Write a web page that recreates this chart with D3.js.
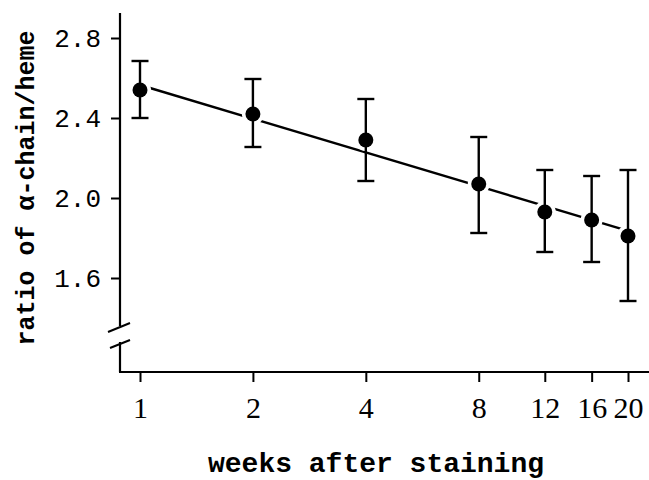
<!DOCTYPE html>
<html>
<head>
<meta charset="utf-8">
<script src="https://cdn.jsdelivr.net/npm/d3@7"></script>
<style>
  body { margin: 0; background: #fff; }
  svg { display: block; }
</style>
</head>
<body>
<svg id="chart"></svg>
<script>
let width = 649;
let height = 480;

// data
const weeks = [1, 2, 4, 8, 12, 16, 20];
const ratio = [2.54, 2.42, 2.29, 2.07, 1.93, 1.89, 1.81];
const errHigh = [2.685, 2.595, 2.495, 2.305, 2.14, 2.11, 2.14];
const errLow = [2.40, 2.255, 2.085, 1.825, 1.73, 1.68, 1.485];
const fitWeeks = [1, 20];
const fitRatio = [2.565, 1.836];
const yTicks = [1.6, 2.0, 2.4, 2.8];

let svg = d3.select('#chart')
  .attr('width', width)
  .attr('height', height);

let x = d3.scaleLog()
  .domain([1, 20])
  .range([140, 628]);

let y = d3.scaleLinear()
  .domain([1.13, 2.925])
  .range([372, 13]);

const axisLeft = 120;
const axisBottom = 372;

// axes
let xAxis = svg.append('g')
  .attr('transform', `translate(0,${axisBottom})`)
  .call(d3.axisBottom(x).tickValues(weeks).tickFormat(d3.format('d'))
    .tickSize(10).tickPadding(15).tickSizeOuter(0));
xAxis.select('.domain').remove();
xAxis.selectAll('line').attr('stroke-width', 2);
xAxis.selectAll('text')
  .attr('font-family', '"Liberation Serif", serif')
  .attr('font-size', 30)
  .attr('fill', '#000');

svg.append('line')
  .attr('x1', axisLeft - 1).attr('x2', width)
  .attr('y1', axisBottom).attr('y2', axisBottom)
  .attr('stroke', '#000').attr('stroke-width', 2.2);

let yAxis = svg.append('g')
  .attr('transform', `translate(${axisLeft},0)`)
  .call(d3.axisLeft(y).tickValues(yTicks).tickFormat(d3.format('.1f'))
    .tickSize(9).tickPadding(10));
yAxis.select('.domain').remove();
yAxis.selectAll('line').attr('stroke-width', 2);
yAxis.selectAll('text')
  .attr('font-family', '"Liberation Mono", monospace')
  .attr('font-size', 26)
  .attr('fill', '#000');

// y axis line with a break
svg.append('line')
  .attr('x1', axisLeft).attr('x2', axisLeft)
  .attr('y1', 13).attr('y2', 326)
  .attr('stroke', '#000').attr('stroke-width', 2.2);
svg.append('line')
  .attr('x1', axisLeft).attr('x2', axisLeft)
  .attr('y1', 342).attr('y2', axisBottom)
  .attr('stroke', '#000').attr('stroke-width', 2.2);
svg.append('line')
  .attr('x1', 108).attr('y1', 332).attr('x2', 130).attr('y2', 323)
  .attr('stroke', '#000').attr('stroke-width', 2);
svg.append('line')
  .attr('x1', 110).attr('y1', 348).attr('x2', 130).attr('y2', 340)
  .attr('stroke', '#000').attr('stroke-width', 2);

// fitted line
svg.append('path')
  .datum(fitWeeks.map((w, i) => [w, fitRatio[i]]))
  .attr('fill', 'none')
  .attr('stroke', '#000')
  .attr('stroke-width', 2.4)
  .attr('d', d3.line().x(d => x(d[0])).y(d => y(d[1])));

// white gaps round the points
svg.append('g')
  .selectAll('circle')
  .data(weeks)
  .join('circle')
    .attr('cx', d => x(d))
    .attr('cy', (d, i) => y(ratio[i]))
    .attr('r', 11)
    .attr('fill', '#fff');

// error bars
let bars = svg.append('g')
  .attr('stroke', '#000')
  .attr('stroke-width', 2.4);

bars.selectAll('.v')
  .data(weeks)
  .join('line')
    .attr('x1', d => x(d)).attr('x2', d => x(d))
    .attr('y1', (d, i) => y(errHigh[i]))
    .attr('y2', (d, i) => y(errLow[i]));

bars.selectAll('.hi')
  .data(weeks)
  .join('line')
    .attr('x1', d => x(d) - 8.5).attr('x2', d => x(d) + 8.5)
    .attr('y1', (d, i) => y(errHigh[i]))
    .attr('y2', (d, i) => y(errHigh[i]));

bars.selectAll('.lo')
  .data(weeks)
  .join('line')
    .attr('x1', d => x(d) - 8.5).attr('x2', d => x(d) + 8.5)
    .attr('y1', (d, i) => y(errLow[i]))
    .attr('y2', (d, i) => y(errLow[i]));

// points
svg.append('g')
  .selectAll('circle')
  .data(weeks)
  .join('circle')
    .attr('cx', d => x(d))
    .attr('cy', (d, i) => y(ratio[i]))
    .attr('r', 7.5)
    .attr('fill', '#000');

// labels
svg.append('text')
  .attr('x', 376)
  .attr('y', 472)
  .attr('text-anchor', 'middle')
  .attr('font-family', '"Liberation Mono", monospace')
  .attr('font-weight', 'bold')
  .attr('font-size', 28)
  .text('weeks after staining');

svg.append('text')
  .attr('transform', 'translate(34,188) rotate(-90)')
  .attr('text-anchor', 'middle')
  .attr('font-family', '"Liberation Mono", monospace')
  .attr('font-weight', 'bold')
  .attr('font-size', 25)
  .text('ratio of α-chain/heme');
</script>
</body>
</html>
